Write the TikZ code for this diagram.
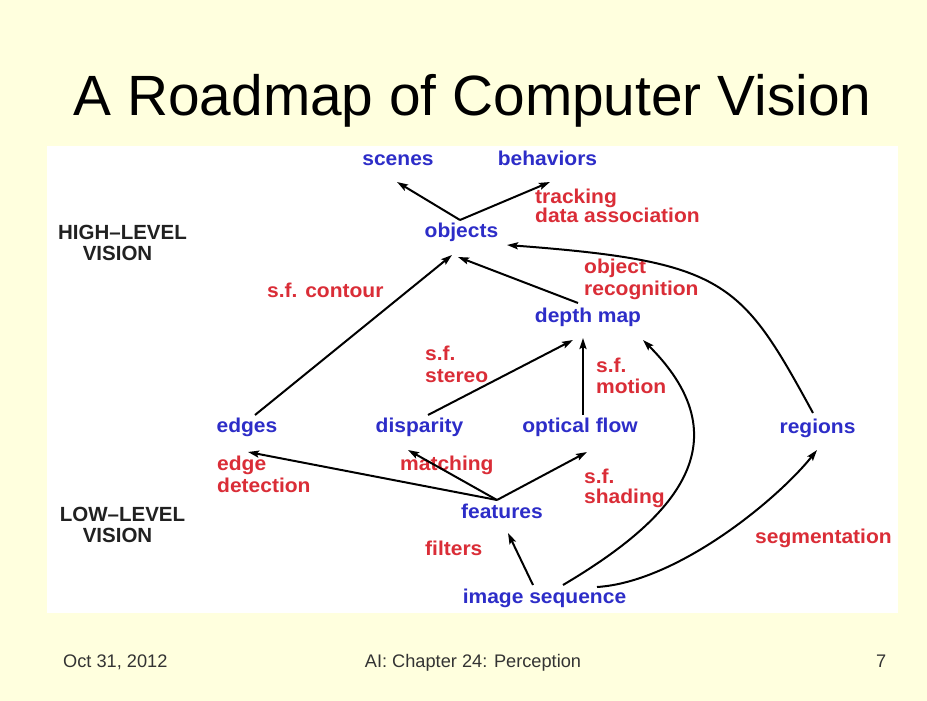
\documentclass[tikz,border=0pt]{standalone}
\usepackage{fontspec}
\setmainfont{Liberation Sans}
\newfontfamily\labfont[FakeStretch=1.05]{Liberation Sans}
\usetikzlibrary{arrows.meta}
\definecolor{bgyellow}{RGB}{255,255,222}
\definecolor{lblue}{RGB}{45,45,200}
\definecolor{lred}{RGB}{218,45,55}
\begin{document}
\begin{tikzpicture}[x=1pt,y=-1pt,
  blab/.style={inner sep=0pt, anchor=base, text=lblue, font=\labfont\bfseries\fontsize{20}{24}\selectfont},
  rlab/.style={inner sep=0pt, anchor=base west, text=lred, font=\labfont\bfseries\fontsize{20}{24}\selectfont},
  levlab/.style={inner sep=0pt, anchor=base, text=black!87, font=\bfseries\fontsize{20.5}{24}\selectfont},
  foot/.style={inner sep=0pt, text=black!80, font=\fontsize{18.2}{22}\selectfont},
  conn/.style={line width=2pt, -{Stealth[length=11pt,width=7pt,inset=2pt]}}
]
\fill[bgyellow] (0,0) rectangle (927,701);
\useasboundingbox (0,0) rectangle (927,701);
\fill[white] (47,146) rectangle (898,613);

% title
\node[inner sep=0pt, anchor=base, font=\fontsize{56.8}{60}\selectfont] (title) at (472.5,115) {A Roadmap of Computer Vision};

% level labels
\node[levlab] (hl1) at (122.5,239) {HIGH–LEVEL};
\node[levlab] (hl2) at (117.5,260) {VISION};
\node[levlab] (ll1) at (122.5,521) {LOW–LEVEL};
\node[levlab] (ll2) at (117.5,542) {VISION};

% blue nodes
\node[blab] (scenes) at (398,165) {scenes};
\node[blab] (behaviors) at (547.5,165) {behaviors};
\node[blab] (objects) at (461.5,237) {objects};
\node[blab] (depth) at (588,322) {depth map};
\node[blab] (edges) at (247,432) {edges};
\node[blab] (disparity) at (419.5,432) {disparity};
\node[blab] (optical) at (580,432) {optical flow};
\node[blab] (regions) at (817.5,433) {regions};
\node[blab] (features) at (502,518) {features};
\node[blab] (image) at (544.5,603) {image sequence};

% red labels
\node[rlab] (track) at (535,203) {tracking};
\node[rlab] (dataassoc) at (535,222) {data association};
\node[rlab] (objrec1) at (584,273) {object};
\node[rlab] (objrec2) at (584,295) {recognition};
\node[rlab] (sfc) at (267,297) {s.f. contour};
\node[rlab] (sfs1) at (425,360) {s.f.};
\node[rlab] (sfs2) at (425,382) {stereo};
\node[rlab] (sfm1) at (596,372) {s.f.};
\node[rlab] (sfm2) at (596,393) {motion};
\node[rlab] (ed1) at (217,470) {edge};
\node[rlab] (ed2) at (217,492) {detection};
\node[rlab] (match) at (400,470) {matching};
\node[rlab] (sfsh1) at (584,483) {s.f.};
\node[rlab] (sfsh2) at (584,503) {shading};
\node[rlab] (filters) at (425,555) {filters};
\node[rlab] (segm) at (755,543) {segmentation};

% connectors
\draw[conn] ([shift={(-1.5,-17)}]objects.base) -- ([shift={(-1,17)}]scenes.base);
\draw[conn] ([shift={(-1.5,-17)}]objects.base) -- ([shift={(2.5,17)}]behaviors.base);
\draw[conn] ([shift={(-10,-19)}]depth.base) -- ([shift={(-3.5,20)}]objects.base);
\draw[conn] ([shift={(8,-17)}]edges.base) -- ([shift={(-9.5,18)}]objects.base);
\draw[conn] ([shift={(-4.5,-20)}]regions.base) .. controls +(-72,-132) and +(219,16.5) .. ([shift={(45.5,8)}]objects.base);
\draw[conn] ([shift={(-11.5,-18)}]image.base) -- ([shift={(6,15)}]features.base);
\draw[conn] ([shift={(-5,-18)}]features.base) -- ([shift={(1,20)}]edges.base);
\draw[conn] ([shift={(-5,-18)}]features.base) -- ([shift={(-11.5,18)}]disparity.base);
\draw[conn] ([shift={(-5,-18)}]features.base) -- ([shift={(7,20)}]optical.base);
\draw[conn] ([shift={(8.5,-17)}]disparity.base) -- ([shift={(-15,18)}]depth.base);
\draw[conn] ([shift={(3,-17)}]optical.base) -- ([shift={(-5,16)}]depth.base);
\draw[conn] ([shift={(18.5,-18)}]image.base) .. controls +(103,-61) and +(106,106) .. ([shift={(55,18)}]depth.base);
\draw[conn] ([shift={(52.5,-16)}]image.base) .. controls +(80,-5) and +(-40,50) .. ([shift={(-0.5,17)}]regions.base);

% footer
\node[foot, anchor=base west] (date) at (63,667) {Oct 31, 2012};
\node[foot, anchor=base] (chap) at (473,667) {AI: Chapter 24: Perception};
\node[foot, anchor=base west] (page) at (876,667) {7};
\end{tikzpicture}
\end{document}
